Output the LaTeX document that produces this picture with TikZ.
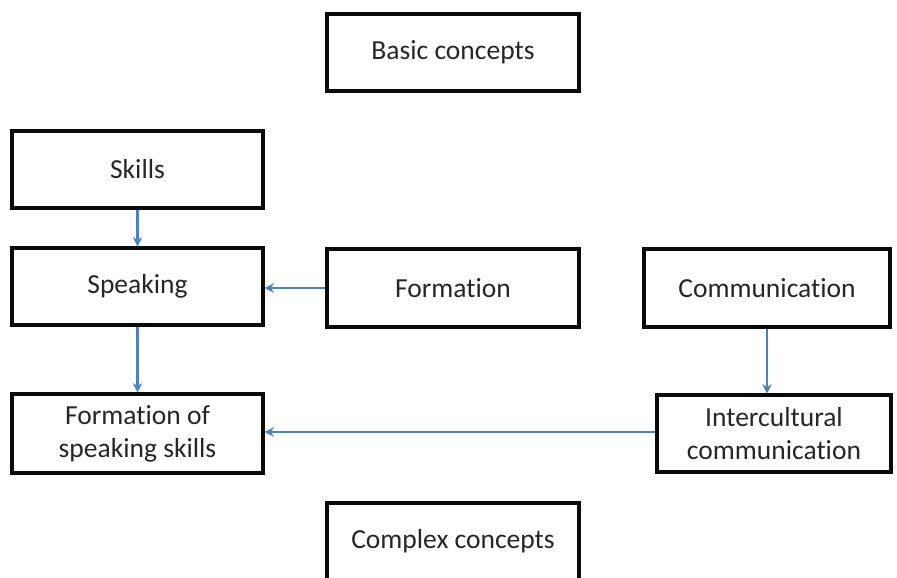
\documentclass[tikz,border=0pt]{standalone}
\usepackage{fontspec}
\setmainfont[Ligatures=NoCommon,RawFeature={-liga;-calt;-clig}]{Carlito}
\usetikzlibrary{positioning,calc}
\usetikzlibrary{arrows.meta}
\definecolor{LinkBlue}{RGB}{79,129,189}
\definecolor{BoxBlack}{RGB}{10,10,10}
\tikzset{
  box/.style={rectangle,draw=BoxBlack,fill=white,line width=2.6pt,inner sep=2pt,
    minimum width=7.56cm,minimum height=2.31cm,align=center,
    font=\fontsize{23.5}{28}\selectfont,text=black!85},
  link/.style={draw=LinkBlue,line width=2.2pt,-{Stealth[length=8pt,width=8pt]}},
}

\begin{document}
\begin{tikzpicture}
\useasboundingbox (0,0) rectangle (26.91,-17.31);
\node[box] (basic) at (13.59,-1.575) {Basic concepts};
\node[box,minimum width=7.53cm] (skills) at (4.125,-5.085) {Skills};
\node[box,minimum width=7.53cm] (speaking) at (4.125,-8.595) {Speaking};
\node[box,minimum height=2.34cm] (formation) at (13.59,-8.64) {Formation};
\node[box,minimum width=7.38cm,minimum height=2.34cm] (comm) at (23.01,-8.64) {Communication};
\node[box,minimum width=7.53cm,minimum height=2.37cm] (fss) at (4.125,-13.005) {Formation of\\speaking skills};
\node[box,minimum width=7.02cm,minimum height=2.31cm] (inter) at (23.22,-13.005) {Intercultural\\communication};
\node[box] (complex) at (13.59,-16.245) {Complex concepts};
\draw[link] (skills) -- (speaking);
\draw[link] (speaking) -- (fss);
\draw[link] (formation) -- (formation -| speaking.east);
\draw[link] (comm.south) -- (comm.south |- inter.north);
\draw[link] (inter.west |- 0,-12.96) -- (fss.east |- 0,-12.96);
\end{tikzpicture}
\end{document}
